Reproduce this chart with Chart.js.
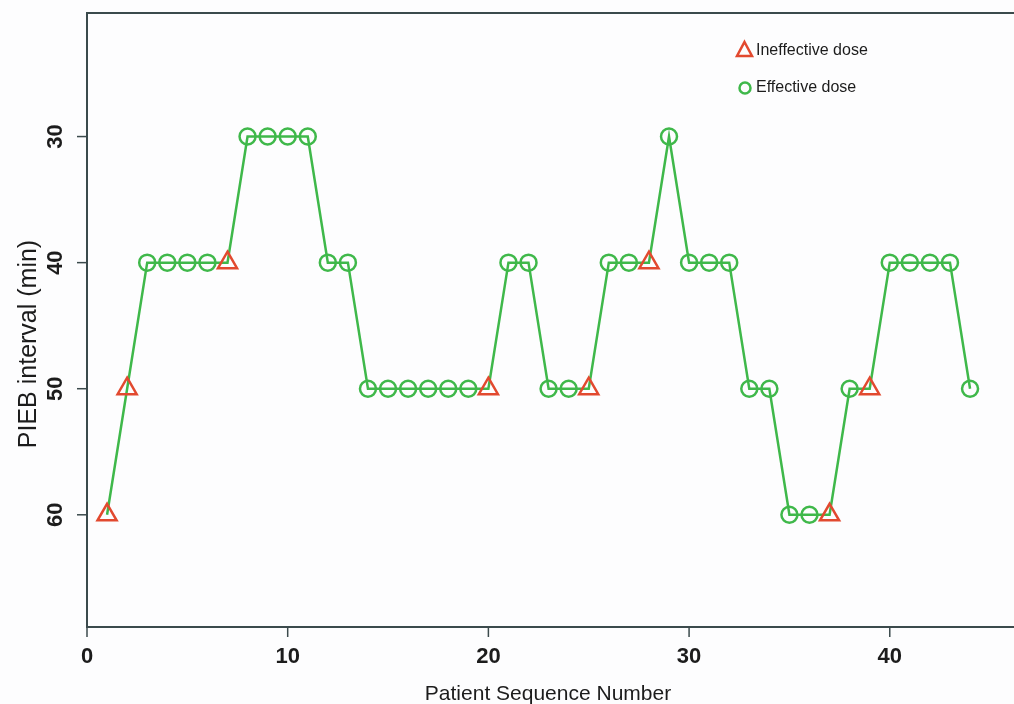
<!DOCTYPE html>
<html><head><meta charset="utf-8">
<script src="https://cdn.jsdelivr.net/npm/chart.js@4.4.1/dist/chart.umd.min.js"></script>
<style>html,body{margin:0;padding:0;background:#fdfdfe;} #wrap{width:1014px;height:704px;position:relative;}</style>
</head><body><div id="wrap"><canvas id="c"></canvas></div>
<script>
const patients = [1,2,3,4,5,6,7,8,9,10,11,12,13,14,15,16,17,18,19,20,21,22,23,24,25,26,27,28,29,30,31,32,33,34,35,36,37,38,39,40,41,42,43,44];
const intervals = [60,50,40,40,40,40,40,30,30,30,30,40,40,50,50,50,50,50,50,50,40,40,50,50,50,40,40,40,30,40,40,40,50,50,60,60,60,50,50,40,40,40,40,50];
const outcomes = ['I','I','E','E','E','E','I','E','E','E','E','E','E','E','E','E','E','E','E','I','E','E','E','E','I','E','E','I','E','E','E','E','E','E','E','E','I','E','I','E','E','E','E','E'];
const xTicks = [0,10,20,30,40];
const yTicks = [30,40,50,60];
const legendLabels = ['Ineffective dose','Effective dose'];

const GREEN = '#3fb84a';
const RED = '#e2492f';
const AXIS = '#3b4a4c';
const TEXT = '#1c1c1c';

const points = patients.map((p,i)=>({x:p,y:intervals[i]}));

const decor = {
  id:'decor',
  beforeDatasetsDraw(chart){
    const {ctx, chartArea:a, scales:{x,y}} = chart;
    ctx.save();
    ctx.strokeStyle = AXIS; ctx.lineWidth = 2;
    ctx.beginPath();
    ctx.moveTo(chart.width, a.top); ctx.lineTo(a.left, a.top);
    ctx.lineTo(a.left, a.bottom); ctx.lineTo(chart.width, a.bottom);
    ctx.stroke();
    ctx.lineWidth = 1.5;
    ctx.fillStyle = TEXT;
    ctx.font = 'bold 22px "Liberation Sans", Arial, sans-serif';
    ctx.textAlign='center'; ctx.textBaseline='middle';
    xTicks.forEach(v=>{
      const px = x.getPixelForValue(v);
      ctx.beginPath(); ctx.moveTo(px,a.bottom); ctx.lineTo(px,a.bottom+10); ctx.stroke();
      ctx.fillText(String(v), px, 657);
    });
    yTicks.forEach(v=>{
      const py = y.getPixelForValue(v);
      ctx.beginPath(); ctx.moveTo(a.left,py); ctx.lineTo(a.left-10,py); ctx.stroke();
      ctx.save(); ctx.translate(56,py); ctx.rotate(-Math.PI/2);
      ctx.fillText(String(v),0,0); ctx.restore();
    });
    ctx.font = '21px "Liberation Sans", Arial, sans-serif';
    ctx.fillText('Patient Sequence Number', 548, 694);
    ctx.save(); ctx.translate(29,344); ctx.rotate(-Math.PI/2);
    ctx.font = '25px "Liberation Sans", Arial, sans-serif';
    ctx.fillText('PIEB interval (min)',0,0); ctx.restore();
    ctx.restore();
  },
  afterDraw(chart){
    const ctx = chart.ctx;
    ctx.save();
    ctx.lineWidth = 2.5;
    ctx.strokeStyle = RED;
    ctx.beginPath();
    ctx.moveTo(744.5,42); ctx.lineTo(752,56); ctx.lineTo(737,56); ctx.closePath(); ctx.stroke();
    ctx.strokeStyle = GREEN;
    ctx.beginPath(); ctx.arc(745,88,5.5,0,Math.PI*2); ctx.stroke();
    ctx.fillStyle = TEXT;
    ctx.font = '16px "Liberation Sans", Arial, sans-serif';
    ctx.textAlign='left'; ctx.textBaseline='middle';
    ctx.fillText(legendLabels[0], 756, 51);
    ctx.fillText(legendLabels[1], 756, 88);
    ctx.restore();
  }
};

new Chart(document.getElementById('c'), {
  type:'line',
  data:{datasets:[{
    data: points,
    borderColor: GREEN,
    borderWidth: 2.5,
    pointStyle: outcomes.map(o=>o==='I'?'triangle':'circle'),
    pointRadius: outcomes.map(o=>o==='I'?11:8),
    pointBorderColor: outcomes.map(o=>o==='I'?RED:GREEN),
    pointBorderWidth: 2.5,
    pointBackgroundColor: 'rgba(0,0,0,0)',
    tension: 0,
    clip: false
  }]},
  options:{
    responsive:true, maintainAspectRatio:false, animation:false,
    layout:{autoPadding:false, padding:{left:87, top:13, right:0, bottom:77}},
    plugins:{legend:{display:false}, tooltip:{enabled:false}},
    scales:{
      x:{type:'linear', min:0, max:46.19, display:false},
      y:{type:'linear', reverse:true, min:20.2, max:68.9, display:false}
    }
  },
  plugins:[decor]
});
</script>
</body></html>
